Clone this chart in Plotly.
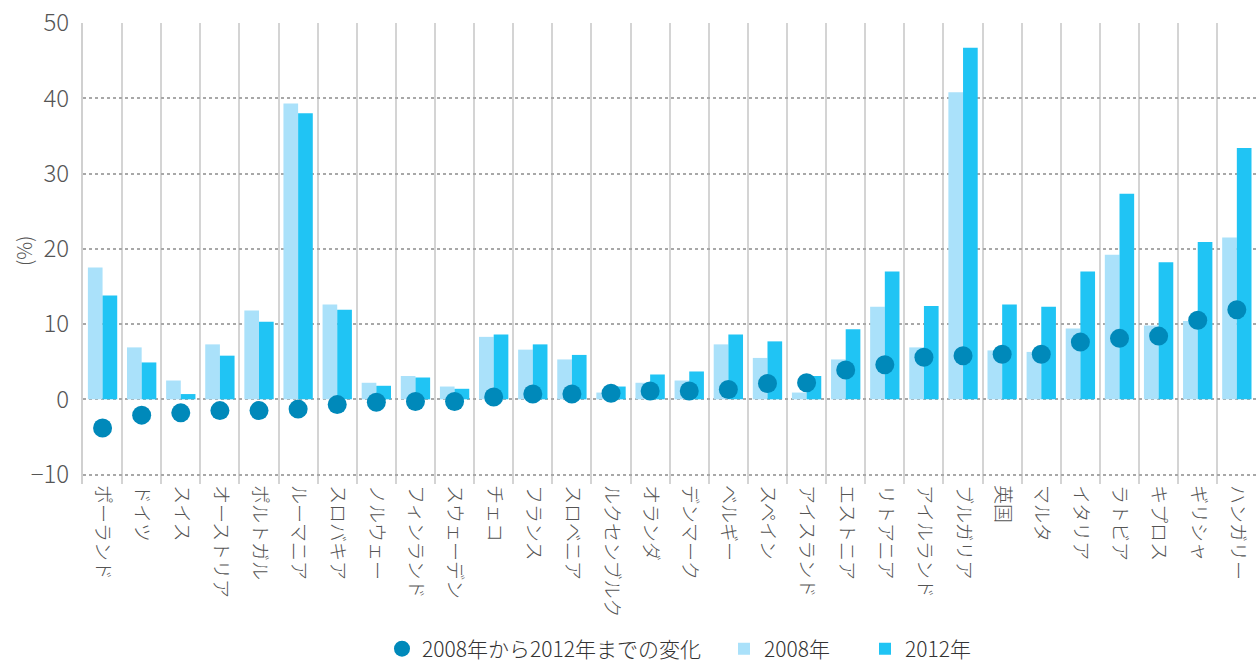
import plotly.graph_objects as go

countries = ["ポーランド", "ドイツ", "スイス", "オーストリア", "ポルトガル", "ルーマニア", "スロバキア",
             "ノルウェー", "フィンランド", "スウェーデン", "チェコ", "フランス", "スロベニア", "ルクセンブルク",
             "オランダ", "デンマーク", "ベルギー", "スペイン", "アイスランド", "エストニア", "リトアニア",
             "アイルランド", "ブルガリア", "英国", "マルタ", "イタリア", "ラトビア", "キプロス", "ギリシャ", "ハンガリー"]
v2008 = [17.5, 6.9, 2.5, 7.3, 11.8, 39.3, 12.6, 2.2, 3.1, 1.7, 8.3, 6.6, 5.3, 0.9,
         2.2, 2.5, 7.3, 5.5, 0.9, 5.3, 12.3, 6.9, 40.8, 6.5, 6.3, 9.4, 19.2, 9.8, 10.4, 21.5]
v2012 = [13.8, 4.9, 0.7, 5.8, 10.3, 38.0, 11.9, 1.8, 2.9, 1.4, 8.6, 7.3, 5.9, 1.7,
         3.3, 3.7, 8.6, 7.7, 3.1, 9.3, 17.0, 12.4, 46.7, 12.6, 12.3, 17.0, 27.3, 18.2, 20.9, 33.4]
change = [-3.8, -2.1, -1.8, -1.5, -1.5, -1.3, -0.7, -0.4, -0.3, -0.3, 0.3, 0.7, 0.7, 0.8,
          1.1, 1.1, 1.3, 2.1, 2.2, 3.9, 4.6, 5.6, 5.8, 6.0, 6.0, 7.6, 8.1, 8.4, 10.5, 11.9]
y_ticks = [-10, 0, 10, 20, 30, 40, 50]

font_family = "Noto Sans CJK JP, Liberation Sans, sans-serif"

W, H = 1257, 664
ML, MR, MT, MB = 83, 1, 23, 180
PH = H - MT - MB
PW = W - ML - MR

fig = go.Figure()
fig.add_trace(go.Scatter(
    x=countries, y=change, mode="markers", name="2008年から2012年までの変化", legendwidth=297,
    marker=dict(color="#0089BA", size=19, line=dict(width=0)),
))
fig.add_trace(go.Bar(x=countries, y=v2008, name="2008年", legendwidth=96,
                     marker=dict(color="#AAE1FA", line=dict(width=0))))
fig.add_trace(go.Bar(x=countries, y=v2012, name="2012年", legendwidth=80,
                     marker=dict(color="#20C4F4", line=dict(width=0))))

fig.update_layout(
    width=W, height=H,
    margin=dict(l=ML, r=MR, t=MT, b=MB, autoexpand=False),
    paper_bgcolor="white", plot_bgcolor="white",
    barmode="group", bargap=0.25, bargroupgap=0,
    font=dict(family=font_family, color="#444"),
    showlegend=True,
    legend=dict(orientation="h", x=(382 - ML) / PW, xanchor="left", y=-(649 - (MT + PH)) / PH, yanchor="middle",
                font=dict(size=21, color="#333", weight=300), traceorder="normal"),
    xaxis=dict(
        type="category", range=[-0.5, len(countries) - 0.51], autorange=False,
        tickson="boundaries", showgrid=True, gridcolor="#d4d4d4", gridwidth=1.5,
        tickangle=90, tickfont=dict(size=19, color="#555", weight=300), ticks="", showline=False,
        zeroline=False, automargin=False,
    ),
    yaxis=dict(
        range=[-11.25, 50], autorange=False, tickvals=y_ticks,
        showgrid=True, gridcolor="#a8a8a8", gridwidth=1.5, griddash="dot",
        zeroline=False, showline=True, linecolor="#d0d0d0", linewidth=2,
        tickfont=dict(size=24, color="#555", weight=300), ticks="", automargin=False,
        ticklabelstandoff=7,
    ),
    annotations=[dict(
        text="(%)", xref="paper", yref="paper", x=-(ML - 23) / PW, y=(MT + PH - 251) / PH,
        xanchor="center", yanchor="middle", textangle=-90, showarrow=False,
        font=dict(size=20, color="#555", weight=300),
    )],
)

fig.write_html("out.html", config={"displayModeBar": False},
               post_script="document.body.style.margin='0';document.body.style.padding='0';")
